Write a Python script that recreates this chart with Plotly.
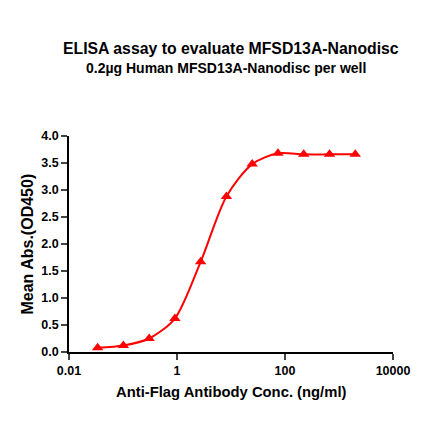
import plotly.graph_objects as go

# serial 3-fold dilution of the antibody, ng/ml
conc = [0.0339, 0.1016, 0.305, 0.914, 2.74, 8.23, 24.69, 74.07, 222.2, 666.7, 2000]
od450 = [0.08, 0.12, 0.25, 0.62, 1.67, 2.88, 3.48, 3.68, 3.66, 3.66, 3.66]

x_ticks = [0.01, 1, 100, 10000]
x_ticktext = ["0.01", "1", "100", "10000"]
y_ticks = [0.0, 0.5, 1.0, 1.5, 2.0, 2.5, 3.0, 3.5, 4.0]

title = "ELISA assay to evaluate MFSD13A-Nanodisc"
subtitle = "0.2µg Human MFSD13A-Nanodisc per well"
x_title = "Anti-Flag Antibody Conc. (ng/ml)"
y_title = "Mean Abs.(OD450)"

FONT = "Liberation Sans, Arial, sans-serif"
RED = "#FF0000"

fig = go.Figure()
fig.add_trace(
    go.Scatter(
        x=conc,
        y=od450,
        mode="lines+markers",
        line={"color": RED, "width": 2, "shape": "spline", "smoothing": 0.8},
        marker={"symbol": "triangle-up", "size": 10, "color": RED},
        cliponaxis=False,
        showlegend=False,
    )
)

# the page body adds ~8px offset, margins are set to compensate
fig.update_layout(
    width=440,
    height=441,
    paper_bgcolor="white",
    plot_bgcolor="white",
    margin={"l": 61, "r": 55, "t": 128, "b": 97},
    font={"family": FONT, "color": "black"},
)

annots = [
    (title, 0.5, 1.405, 15.8, 0),
    (subtitle, 0.485, 1.317, 14, 0),
    (x_title, 0.5, -0.183, 14.8, 0),
    (y_title, -0.131, 0.5, 16, -90),
]
for text, ax, ay, size, angle in annots:
    fig.add_annotation(
        text=f"<b>{text}</b>",
        xref="paper",
        yref="paper",
        x=ax,
        y=ay,
        xanchor="center",
        yanchor="middle",
        textangle=angle,
        showarrow=False,
        font={"size": size, "family": FONT, "color": "black"},
    )

fig.update_xaxes(
    type="log",
    range=[-2, 4],
    tickmode="array",
    tickvals=x_ticks,
    ticktext=[f"<b>{t}</b>" for t in x_ticktext],
    ticks="outside",
    ticklen=6,
    tickwidth=1.5,
    tickfont={"size": 12.5},
    showline=True,
    linecolor="black",
    linewidth=1.5,
    showgrid=False,
    zeroline=False,
)
fig.update_yaxes(
    range=[0, 4],
    tickmode="array",
    tickvals=y_ticks,
    ticktext=[f"<b>{v:.1f}</b>" for v in y_ticks],
    ticks="outside",
    ticklen=6,
    tickwidth=1.5,
    tickfont={"size": 12.5},
    showline=True,
    linecolor="black",
    linewidth=1.5,
    showgrid=False,
    zeroline=False,
)

fig.write_html("out.html")
